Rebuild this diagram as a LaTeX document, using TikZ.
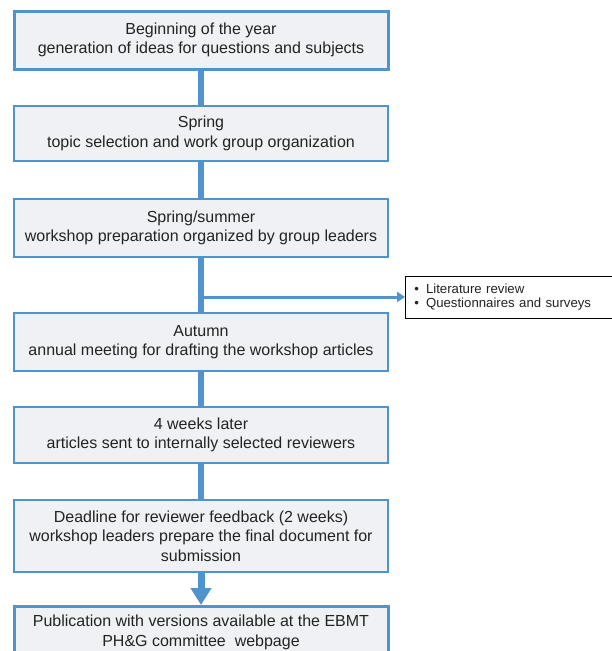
\documentclass[tikz,border=0pt]{standalone}
\usepackage{fontspec}
\setmainfont{Liberation Sans}
\usetikzlibrary{arrows.meta}
\definecolor{bblue}{RGB}{80,148,205}
\definecolor{bfill}{RGB}{240,241,244}
\definecolor{txt}{RGB}{35,35,35}
\begin{document}
\begin{tikzpicture}[x=1pt,y=-1pt,
  stage/.style={draw=bblue,line width=1.2pt,fill=bfill,minimum width=374pt,align=center,text=txt,font=\fontsize{16}{19.5}\selectfont,inner sep=0pt},
  keystage/.style={stage,line width=3pt},
  conn/.style={draw=bblue,line width=6pt},
  side/.style={draw=black,line width=0.8pt,fill=white,align=left,text=txt,font=\fontsize{13.2}{14.5}\selectfont,inner xsep=0pt,inner ysep=0pt}]
\useasboundingbox (0,0) rectangle (612,651);
\begin{scope}
\clip (0,0) rectangle (612,651);
\node[keystage,minimum height=58pt] (s1) at (201,40) {Beginning of the year\\generation of ideas for questions and subjects};
\node[stage,minimum height=55pt] (s2) at (201,133.5) {Spring\\topic selection and work group organization};
\node[stage,minimum height=58pt] (s3) at (201,228) {Spring/summer\\workshop preparation organized by group leaders};
\node[stage,minimum height=58pt] (s4) at (201,342) {Autumn\\annual meeting for drafting the workshop articles};
\node[stage,minimum height=56pt] (s5) at (201,435) {4 weeks later\\articles sent to internally selected reviewers};
\node[stage,minimum height=72pt] (s6) at (201,536) {Deadline for reviewer feedback (2 weeks)\\workshop leaders prepare the final document for\\submission};
\node[keystage,minimum height=52pt,anchor=north] (s7) at (201,605) {Publication with versions available at the EBMT\\PH\&G committee\ \ webpage};
\node[side,minimum height=42pt,text width=207pt,anchor=west] (lit) at (405,297) {\hspace{9pt}\textbullet\hspace{7pt}Literature review\\\hspace{9pt}\textbullet\hspace{7pt}Questionnaires and surveys};
\end{scope}
\draw[conn] (s1) -- (s2);
\draw[conn] (s2) -- (s3);
\draw[conn] (s3) -- (s4);
\draw[conn] (s4) -- (s5);
\draw[conn] (s5) -- (s6);
\draw[draw=bblue,line width=3pt,-{Triangle[length=8pt,width=10pt]}] ([xshift=2pt]s3.south |- lit.west) -- (lit.west);
\draw[draw=bblue,line width=7pt,-{Triangle[length=17pt,width=20pt]}] (s6) -- (s7);
\end{tikzpicture}
\end{document}
